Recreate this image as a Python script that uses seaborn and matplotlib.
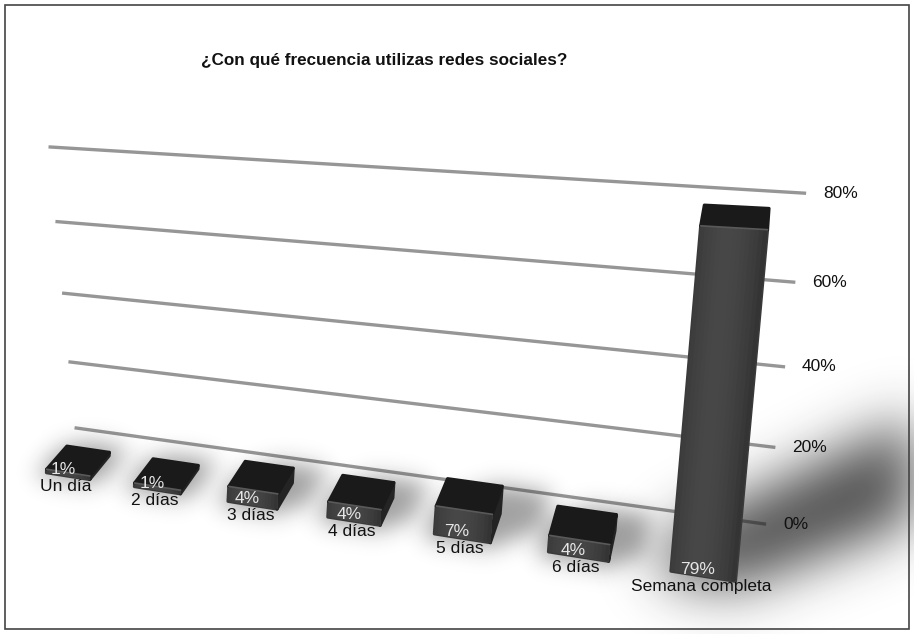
import numpy as np
import pandas as pd
import matplotlib
matplotlib.use("Agg")
import matplotlib.pyplot as plt
import seaborn as sns
from matplotlib.transforms import Transform, offset_copy
from matplotlib.patches import Polygon, Rectangle

categories = ["Un día", "2 días", "3 días", "4 días", "5 días", "6 días", "Semana completa"]
shares = [1, 1, 4, 4, 7, 4, 79]
grid_values = [0, 20, 40, 60, 80]
grid_labels = ["0%", "20%", "40%", "60%", "80%"]
title = "¿Con qué frecuencia utilizas redes sociales?"

W_PX, H_PX = 914, 634

# Perspective camera: world (category x, depth y, value z) -> image pixels (y down)
CAMERA = np.array([
    [84.58185626803504, 22.302641509929785, 0.12300432002544996, 67.9064990323743],
    [-0.7383172646604453, -11.072101976042111, -3.672466628410689, 476.14223353138675],
    [-0.030227779782013377, 0.027477948946629735, -0.0002690185707635445, 1.0],
])
# Back wall: (position along wall 0..1, value) -> image pixels
WALL = np.array([
    [567.260890343795, -0.3730362271158165, 74.54685921083247],
    [11.383687118297333, -3.655325548789184, 427.7654439380122],
    [-0.16221931495842, -0.0009827508604224767, 1.0],
])
BAR_WIDTH = 0.5
BAR_DEPTH = 1.0

FLIP = np.array([[1, 0, 0], [0, -1, H_PX], [0, 0, 1]], float)


class Homography(Transform):
    """Planar projective map into display pixels."""
    input_dims = output_dims = 2
    is_separable = False
    has_inverse = False

    def __init__(self, M):
        super().__init__()
        self.M = FLIP @ np.asarray(M, float)

    def transform_non_affine(self, values):
        v = np.atleast_2d(np.asarray(values, float))
        hv = np.c_[v, np.ones(len(v))] @ self.M.T
        return hv[:, :2] / hv[:, 2:3]


P = CAMERA


def plane_xz(y):
    return np.column_stack([P[:, 0], P[:, 2], y * P[:, 1] + P[:, 3]])


def plane_xy(z):
    return np.column_stack([P[:, 0], P[:, 1], z * P[:, 2] + P[:, 3]])


def plane_yz(x):
    return np.column_stack([P[:, 1], P[:, 2], x * P[:, 0] + P[:, 3]])


def gauss_matrix(n, sigma):
    idx = np.arange(n)
    K = np.exp(-((idx[:, None] - idx[None, :]) ** 2) / (2 * sigma ** 2))
    return K / K.sum(1, keepdims=True)


class SoftShadow:
    """agg filter: replaces an artist by a blurred, tinted copy of its alpha."""

    def __init__(self, sigma, alpha, color=(0.12, 0.12, 0.12)):
        self.sigma, self.alpha, self.color = sigma, alpha, color

    def __call__(self, im, dpi):
        pad = int(3 * self.sigma)
        src = np.pad(im, [(pad, pad), (pad, pad), (0, 0)])
        a = src[:, :, 3] * self.alpha
        a = gauss_matrix(a.shape[0], self.sigma) @ a @ gauss_matrix(a.shape[1], self.sigma).T
        out = np.empty_like(src)
        out[:, :, :3] = self.color
        out[:, :, 3] = np.clip(a, 0, 1)
        return out, -pad, -pad


sns.set_theme(style="white")
plt.rcParams["font.family"] = ["Liberation Sans", "DejaVu Sans"]

fig = plt.figure(figsize=(W_PX / 100, H_PX / 100), dpi=100)
ax = fig.add_axes([0, 0, 1, 1])
ax.set_axis_off()

df = pd.DataFrame({"frecuencia": categories, "porcentaje": shares})
sns.barplot(data=df, x="frecuencia", y="porcentaje", width=BAR_WIDTH, color="#3b3b3b",
            errorbar=None, ax=ax)

# back wall grid with percentage labels
wall_t = Homography(WALL)
for val, lab in zip(grid_values, grid_labels):
    ax.plot([0, 1], [val, val], color="#969696", lw=2.4, transform=wall_t, clip_on=False,
            zorder=1, solid_capstyle="butt")
    ax.text(1, val, lab, transform=offset_copy(wall_t, fig, x=17, y=0, units="dots"),
            ha="left", va="center", fontsize=12.5, color="#111111")

# camera position decides which box faces are visible
C = np.linalg.svd(P)[2][-1]
C = C[:3] / C[3]

front_t = Homography(plane_xz(0))
floor_t = Homography(plane_xy(0))
for i, bar in enumerate(ax.patches):
    x0, w, v = bar.get_x(), bar.get_width(), bar.get_height()
    tall = v > 20

    # soft shadow on the floor, thrown to the back right
    if tall:
        dx, dy, spread = 0.024 * v, 0.07 * v, 1.6
        sigma, strength = 28, 0.8
    else:
        dx, dy, spread = 0.04 * v + 0.1, 0.1 * v + 0.3, 0.3
        sigma, strength = 11, 0.42
    shadow = Polygon([(x0 - 0.08, -0.2), (x0 + w, -0.2), (x0 + w + dx, dy - spread),
                      (x0 + w + dx, BAR_DEPTH + dy), (x0 + dx, BAR_DEPTH + dy), (x0 - 0.08, BAR_DEPTH)],
                     closed=True, fc="k", ec="none", transform=floor_t, clip_on=False, zorder=2)
    shadow.set_agg_filter(SoftShadow(sigma, strength))
    ax.add_patch(shadow)

    face_kw = dict(lw=2.2, joinstyle="round", clip_on=False, zorder=3)
    if C[0] > x0 + w:
        ax.add_patch(Rectangle((0, 0), BAR_DEPTH, v, transform=Homography(plane_yz(x0 + w)),
                               fc="#242424", ec="#242424", **face_kw))
    if C[2] > v:
        ax.add_patch(Rectangle((x0, 0), w, BAR_DEPTH, transform=Homography(plane_xy(v)),
                               fc="#1a1a1a", ec="#1a1a1a", **face_kw))

    base = "#3a3a3a"
    bar.set_transform(front_t)
    bar.set_clip_on(False)
    bar.set_zorder(3)
    bar.set_facecolor(base)
    bar.set_edgecolor(base)
    bar.set_linewidth(2.2)
    bar.set_joinstyle("round")

    # gentle shading across the front face (overlapping bands, painted left to right)
    n = 16
    for k in range(n):
        t = (k + 0.5) / n
        shade = 0.235 + 0.045 * np.sin(np.pi * min(t * 1.2, 1.0)) - 0.04 * max(t - 0.85, 0) / 0.15
        ax.add_patch(Rectangle((x0 + k * w / n, 0), w - k * w / n, v, transform=front_t,
                               fc=str(shade), ec="none", clip_on=False, zorder=3.1))
    # highlight along the top edge of the front face
    ax.plot([x0, x0 + w], [v, v], color="#595959", lw=1.2, transform=front_t,
            clip_on=False, zorder=3.2, solid_capstyle="round")

    cx = x0 + w / 2
    ax.text(cx, 0, f"{v:.0f}%", transform=offset_copy(front_t, fig, x=-5, y=2, units="dots"),
            ha="center", va="baseline", fontsize=12.5, color="#e6e6e6", zorder=5)
    ax.text(cx, 0, categories[i], transform=offset_copy(front_t, fig, x=-2, y=-3, units="dots"),
            ha="center", va="top", fontsize=12.5, color="#111111", zorder=5)

fig.text(384 / W_PX, 1 - 60 / H_PX, title, ha="center", va="center", fontsize=12.3,
         fontweight="bold", color="#111111")
fig.add_artist(Rectangle((5 / W_PX, 5 / H_PX), 1 - 10 / W_PX, 1 - 10 / H_PX, transform=fig.transFigure,
                         fill=False, ec="#444444", lw=1.2))

fig.savefig("out.png", dpi=100)
